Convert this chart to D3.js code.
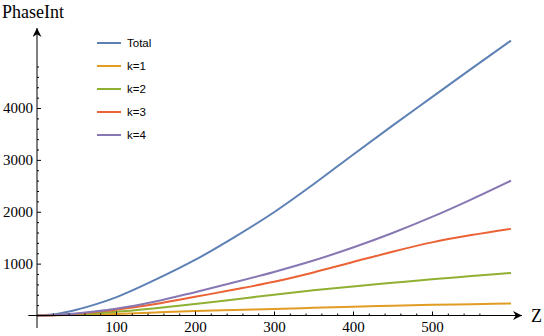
<!DOCTYPE html>
<html>
<head>
<meta charset="utf-8">
<script src="https://cdn.jsdelivr.net/npm/d3@7"></script>
<style>
  body { margin: 0; background: #fff; }
  svg { display: block; }
</style>
</head>
<body>
<svg id="chart" width="544" height="336"></svg>
<script>
var zValues = [0, 25, 50, 75, 100, 150, 200, 250, 300, 350, 400, 450, 500, 550, 600];
var totalValues = [0, 30, 110, 220, 350, 690, 1070, 1510, 1990, 2530, 3100, 3660, 4210, 4760, 5300];
var k1Values = [0, 4, 12, 20, 30, 58, 85, 106, 125, 148, 170, 188, 205, 218, 230];
var k2Values = [0, 8, 24, 45, 70, 140, 220, 310, 400, 485, 560, 630, 700, 760, 820];
var k3Values = [0, 10, 35, 70, 110, 220, 360, 500, 650, 830, 1030, 1230, 1410, 1550, 1670];
var k4Values = [0, 10, 38, 80, 130, 270, 450, 640, 840, 1060, 1310, 1590, 1900, 2240, 2600];
var seriesNames = ["Total", "k=1", "k=2", "k=3", "k=4"];
var seriesColors = ["#5e81b5", "#e19c24", "#8fb032", "#eb6235", "#8778b3"];
var xMajorTicks = [100, 200, 300, 400, 500];
var yMajorTicks = [1000, 2000, 3000, 4000];

var svg = d3.select("#chart");

var x = d3.scaleLinear().domain([0, 600]).range([37, 511]);
var y = d3.scaleLinear().domain([0, 4000]).range([315.5, 108]);

var seriesData = [totalValues, k1Values, k2Values, k3Values, k4Values];

// arrow head
svg.append("defs").append("marker")
  .attr("id", "arrow")
  .attr("viewBox", "0 0 10 10")
  .attr("refX", 10).attr("refY", 5)
  .attr("markerWidth", 11).attr("markerHeight", 9)
  .attr("markerUnits", "userSpaceOnUse")
  .attr("orient", "auto")
  .append("path")
  .attr("d", "M0,0 L10,5 L0,10 L3,5 Z")
  .attr("fill", "#000");

// curves
var line = d3.line()
  .x(function (d, i) { return x(zValues[i]); })
  .y(function (d) { return y(d); })
  .curve(d3.curveMonotoneX);

svg.append("g")
  .selectAll("path")
  .data(seriesData)
  .enter()
  .append("path")
  .attr("d", line)
  .attr("fill", "none")
  .attr("stroke", function (d, i) { return seriesColors[i]; })
  .attr("stroke-width", 2);

// x axis: minor then major ticks, pointing up
var xMinor = d3.range(20, 561, 20).filter(function (v) { return v % 100 != 0; });
var gxMinor = svg.append("g")
  .attr("transform", "translate(0," + y(0) + ")")
  .call(d3.axisBottom(x).tickValues(xMinor).tickSize(-2).tickFormat(""));
gxMinor.select(".domain").remove();

var gx = svg.append("g")
  .attr("transform", "translate(0," + y(0) + ")")
  .call(d3.axisBottom(x).tickValues(xMajorTicks).tickSize(-4).tickPadding(6).tickFormat(d3.format("d")));
gx.select(".domain").remove();
gx.selectAll("text")
  .style("font-family", "'Liberation Serif', 'DejaVu Serif', serif")
  .style("font-size", "15px")
  .attr("fill", "#000");

// y axis
var yMinor = d3.range(200, 4801, 200).filter(function (v) { return v % 1000 != 0; });
var gyMinor = svg.append("g")
  .attr("transform", "translate(" + x(0) + ",0)")
  .call(d3.axisLeft(y).tickValues(yMinor).tickSize(-2).tickFormat(""));
gyMinor.select(".domain").remove();

var gy = svg.append("g")
  .attr("transform", "translate(" + x(0) + ",0)")
  .call(d3.axisLeft(y).tickValues(yMajorTicks).tickSize(-4).tickPadding(4).tickFormat(d3.format("d")));
gy.select(".domain").remove();
gy.selectAll("text")
  .style("font-family", "'Liberation Serif', 'DejaVu Serif', serif")
  .style("font-size", "15px")
  .attr("fill", "#000");

// axis lines with arrows
svg.append("line")
  .attr("x1", x(-11)).attr("x2", 522)
  .attr("y1", y(0)).attr("y2", y(0))
  .attr("stroke", "#000").attr("stroke-width", 1)
  .attr("marker-end", "url(#arrow)");
svg.append("line")
  .attr("x1", x(0)).attr("x2", x(0))
  .attr("y1", y(-240)).attr("y2", 28)
  .attr("stroke", "#000").attr("stroke-width", 1)
  .attr("marker-end", "url(#arrow)");

// axis titles
svg.append("text")
  .attr("x", 2).attr("y", 18)
  .style("font-family", "'Liberation Serif', 'DejaVu Serif', serif")
  .style("font-size", "18px")
  .text("PhaseInt");
svg.append("text")
  .attr("x", 531).attr("y", y(0) + 6)
  .style("font-family", "'Liberation Serif', 'DejaVu Serif', serif")
  .style("font-size", "18px")
  .text("Z");

// legend
var legend = svg.append("g")
  .selectAll("g")
  .data(seriesNames)
  .enter()
  .append("g")
  .attr("transform", function (d, i) { return "translate(97," + (43 + i * 23) + ")"; });
legend.append("line")
  .attr("x1", 0).attr("x2", 24)
  .attr("y1", 0).attr("y2", 0)
  .attr("stroke", function (d, i) { return seriesColors[i]; })
  .attr("stroke-width", 2);
legend.append("text")
  .attr("x", 30).attr("y", 0).attr("dy", "0.35em")
  .style("font-family", "'Liberation Sans', Arial, sans-serif")
  .style("font-size", "11.5px")
  .text(function (d) { return d; });
</script>
</body>
</html>
